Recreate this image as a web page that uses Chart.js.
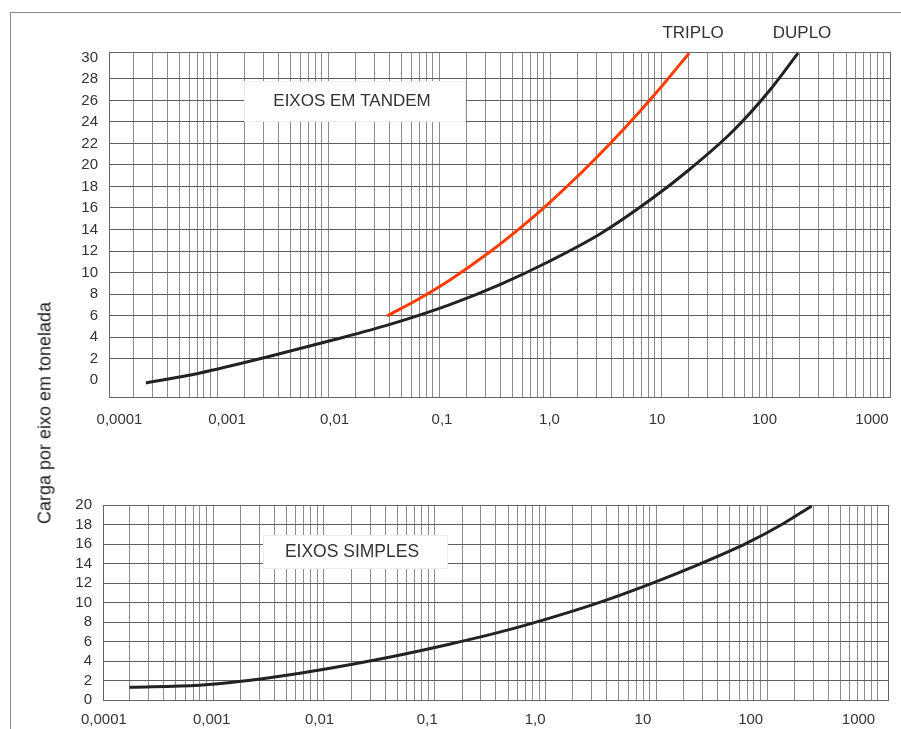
<!DOCTYPE html>
<html><head><meta charset="utf-8">
<script src="https://cdn.jsdelivr.net/npm/chart.js@4.4.1/dist/chart.umd.min.js"></script>
<style>
html,body{margin:0;padding:0;background:#fff;width:901px;height:729px;overflow:hidden;}
#frame{position:absolute;left:10px;top:12px;width:900px;height:730px;border-left:1px solid #8a8a8a;border-top:1px solid #8a8a8a;}
#c1{position:absolute;left:0;top:0;}
#c2{position:absolute;left:0;top:460px;}
#ytitle{position:absolute;left:45px;top:413px;transform:translate(-50%,-50%) rotate(-90deg);font:18px 'Liberation Sans',Arial,sans-serif;color:#222;white-space:nowrap;}
</style></head><body>
<div id="frame"></div>
<canvas id="c1" width="901" height="440"></canvas>
<canvas id="c2" width="901" height="269"></canvas>
<div id="ytitle">Carga por eixo em tonelada</div>
<script>
// ---- data ----
const xTickValues = [0.0001, 0.001, 0.01, 0.1, 1, 10, 100, 1000];
const xTickLabels = ['0,0001', '0,001', '0,01', '0,1', '1,0', '10', '100', '1000'];
const yTicksTandem = [0, 2, 4, 6, 8, 10, 12, 14, 16, 18, 20, 22, 24, 26, 28, 30];
const yTicksSimples = [0, 2, 4, 6, 8, 10, 12, 14, 16, 18, 20];

const duploX = [0.000176, 0.000561, 0.00236, 0.00968, 0.0328, 0.1186, 0.346, 0.968, 2.95, 8.61, 20.3, 50.9, 112.5, 205];
const duploY = [-0.28, 0.65, 2.14, 3.72, 5.18, 7.02, 8.88, 10.98, 13.58, 16.74, 19.63, 23.16, 26.98, 30.4];

const triploX = [0.0308, 0.0624, 0.1186, 0.28, 0.532, 0.968, 1.92, 3.65, 6.95, 11.9, 19.9];
const triploY = [5.95, 7.61, 9.31, 11.93, 14.13, 16.37, 19.16, 21.98, 25.01, 27.7, 30.4];

const simplesX = [0.000173, 0.00077, 0.0018, 0.0066, 0.019, 0.056, 0.16, 0.405, 0.95, 3.97, 11.6, 33.6, 91, 198, 368];
const simplesY = [1.3, 1.52, 1.89, 2.75, 3.62, 4.62, 5.72, 6.78, 7.89, 10.02, 11.89, 13.94, 16.06, 18.05, 19.9];

// printed log-paper rulings within one cycle (relative to cycle start)
const gridSteps = [1, 1.48, 2.02, 2.6, 3.16, 3.73, 4.3, 4.95, 5.65];
const gridCycles = [1, 10, 100, 1000, 10000, 100000, 1000000];

Chart.defaults.font.family = "'Liberation Sans', Arial, sans-serif";
Chart.defaults.color = '#333';

const pts = (xs, ys) => xs.map((x, i) => ({x: x, y: ys[i]}));
const gridValues = [];
gridCycles.forEach(c => gridSteps.forEach(s => gridValues.push(s * c)));

const framePlugin = {
  id: 'frameBox',
  beforeDatasetsDraw(chart, args, opts) {
    const ctx = chart.ctx, a = chart.chartArea;
    ctx.save();
    ctx.strokeStyle = '#666';
    ctx.lineWidth = 1;
    ctx.strokeRect(Math.round(a.left) + 0.5, Math.round(a.top) + 0.5, Math.round(a.right - a.left), Math.round(a.bottom - a.top));
    if (opts.box) {
      const b = opts.box;
      ctx.fillStyle = '#fff';
      ctx.fillRect(b.x, b.y, b.w, b.h);
      ctx.strokeStyle = '#ececec';
      ctx.strokeRect(b.x + 0.5, b.y + 0.5, b.w, b.h);
      ctx.fillStyle = '#333';
      ctx.font = b.font;
      ctx.textAlign = 'center';
      ctx.textBaseline = 'middle';
      ctx.fillText(b.text, b.tx, b.ty);
    }
    ctx.restore();
  },
  afterDatasetsDraw(chart, args, opts) {
    if (!opts.endLabels) return;
    const ctx = chart.ctx, a = chart.chartArea;
    ctx.save();
    ctx.fillStyle = '#333';
    ctx.font = "17px 'Liberation Sans', Arial, sans-serif";
    ctx.textAlign = 'center';
    ctx.textBaseline = 'middle';
    chart.data.datasets.forEach((ds, i) => {
      const els = chart.getDatasetMeta(i).data;
      const last = els[els.length - 1];
      ctx.fillText(ds.label, last.x + 4, a.top - 18.5);
    });
    ctx.restore();
  }
};

function makeChart(id, cfg) {
  return new Chart(document.getElementById(id), {
    type: 'scatter',
    data: {datasets: cfg.datasets},
    plugins: [framePlugin],
    options: {
      responsive: false,
      animation: false,
      layout: {padding: {top: cfg.padTop, right: cfg.padRight, left: 0, bottom: 0}},
      plugins: {legend: {display: false}, tooltip: {enabled: false}, frameBox: {box: cfg.box, endLabels: cfg.endLabels}},
      elements: {point: {radius: 0}},
      scales: {
        x: {
          type: 'logarithmic', position: 'bottom', min: cfg.xMin, max: cfg.xMax,
          grid: {display: false}, border: {display: false},
          afterBuildTicks: s => { s.ticks = xTickValues.map(v => ({value: v, major: true})); },
          afterFit: s => { s.height = cfg.xHeight; },
          ticks: {autoSkip: false, maxRotation: 0, padding: cfg.xPad, font: {size: 15}, color: '#333',
            callback: v => { const i = xTickValues.findIndex(t => Math.abs(Math.log10(t) - Math.log10(v)) < 1e-6); return i >= 0 ? xTickLabels[i] : ''; }}
        },
        paper: {
          type: 'logarithmic', position: 'top', min: cfg.gMin, max: cfg.gMax,
          ticks: {display: false}, border: {display: false},
          grid: {color: '#8c8c8c', lineWidth: 1, drawTicks: false},
          afterBuildTicks: s => { s.ticks = gridValues.filter(v => v > s.min && v < s.max).map(v => ({value: v})); },
          afterFit: s => { s.height = 0; }
        },
        y: {
          type: 'linear', min: cfg.yMin, max: cfg.yMax,
          border: {display: false},
          grid: {color: c => (c.tick && cfg.yNoGrid.includes(c.tick.value) ? 'rgba(0,0,0,0)' : '#5e5e5e'), lineWidth: 1, drawTicks: false},
          afterBuildTicks: s => { s.ticks = cfg.yTicks.map(v => ({value: v})); },
          afterFit: s => { s.width = cfg.yWidth; },
          ticks: {autoSkip: false, padding: 11, font: {size: 15}, color: '#333'}
        }
      }
    }
  });
}

makeChart('c1', {
  datasets: [
    {label: 'TRIPLO', data: pts(triploX, triploY), showLine: true, borderColor: '#ff3c00', borderWidth: 3, tension: 0.4, cubicInterpolationMode: 'monotone', clip: 4},
    {label: 'DUPLO', data: pts(duploX, duploY), showLine: true, borderColor: '#222', borderWidth: 3, tension: 0.4, cubicInterpolationMode: 'monotone', clip: 4}
  ],
  padTop: 52, padRight: 11, yWidth: 109, xHeight: 43, xPad: 6,
  xMin: 7.99e-5, xMax: 1470, gMin: 0.6043, gMax: 6.471e6,
  yMin: -1.58, yMax: 30.51, yTicks: yTicksTandem, yNoGrid: [0, 30],
  endLabels: true,
  box: {x: 244, y: 81, w: 221, h: 40, text: 'EIXOS EM TANDEM', tx: 352, ty: 101, font: "17px 'Liberation Sans', Arial, sans-serif"}
});

makeChart('c2', {
  datasets: [
    {label: 'SIMPLES', data: pts(simplesX, simplesY), showLine: true, borderColor: '#222', borderWidth: 3, tension: 0.4, cubicInterpolationMode: 'monotone', clip: 4}
  ],
  padTop: 45, padRight: 13, yWidth: 103, xHeight: 29, xPad: 3,
  xMin: 9.81e-5, xMax: 1878, gMin: 0.5741, gMax: 6.98e6,
  yMin: 0, yMax: 20, yTicks: yTicksSimples, yNoGrid: [0, 20],
  endLabels: false,
  box: {x: 263, y: 75, w: 184, h: 33, text: 'EIXOS SIMPLES', tx: 352, ty: 92, font: "17.5px 'Liberation Sans', Arial, sans-serif"}
});
</script>
</body></html>
